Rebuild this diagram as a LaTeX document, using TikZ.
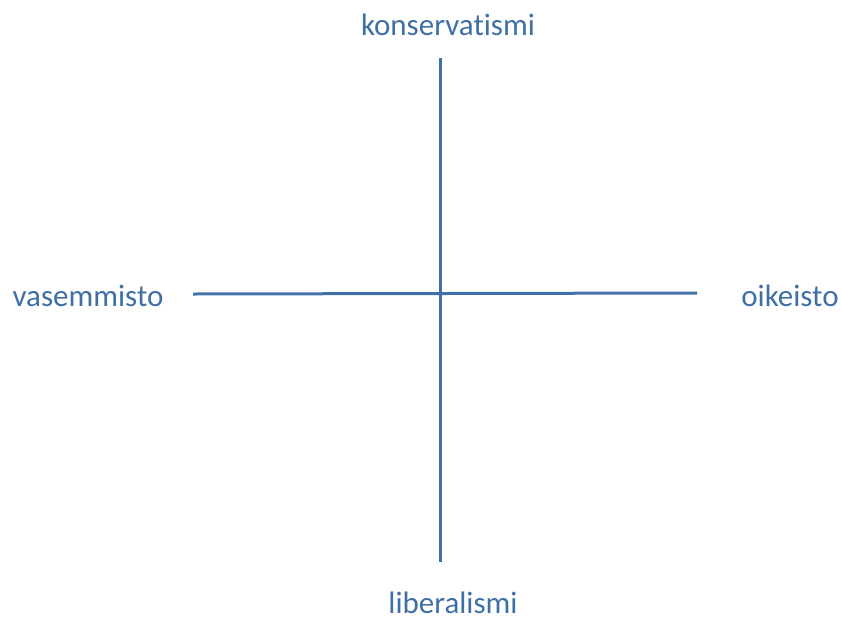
\documentclass[tikz,border=0pt]{standalone}
\usepackage{fontspec}
\setmainfont[Ligatures=NoCommon]{Carlito}
\definecolor{axisblue}{RGB}{66,113,170}
\definecolor{labelblue}{RGB}{62,112,165}
\begin{document}
\begin{tikzpicture}[x=1pt,y=-1pt,
  axisline/.style={draw=axisblue,line width=3pt},
  axislabel/.style={text=labelblue,font=\fontsize{31}{36}\selectfont,inner sep=0pt}]
\useasboundingbox (0,0) rectangle (841,622);
\node[axislabel] (top) at (448,25) {konservatismi};
\node[axislabel] (bottom) at (453,603) {liberalismi};
\node[axislabel] (left) at (88,296) {vasemmisto};
\node[axislabel] (right) at (790,296) {oikeisto};
\coordinate (vt) at (440,58);
\coordinate (vb) at (440,562);
\coordinate (hl) at (193,294);
\coordinate (hr) at (697,293);
\draw[axisline] (vt) -- (vb);
\draw[axisline] (hl) -- (hr);
\end{tikzpicture}
\end{document}
